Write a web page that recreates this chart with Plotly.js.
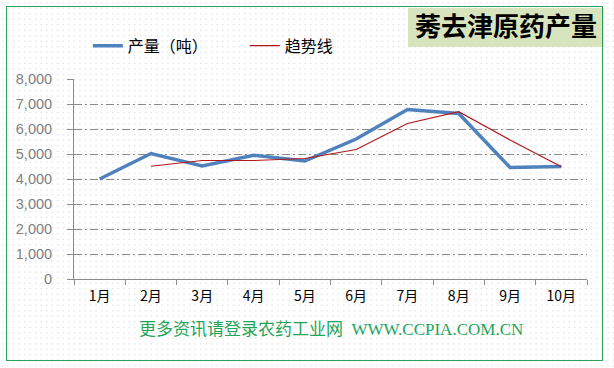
<!DOCTYPE html>
<html>
<head>
<meta charset="utf-8">
<script src="https://cdn.plot.ly/plotly-3.0.1.min.js"></script>
<style>
  html, body { margin: 0; padding: 0; background: #ffffff; }
  #wrap { position: relative; width: 614px; height: 368px; overflow: hidden;
          background-color: #ffffff;
          background-image: radial-gradient(circle, #dcdcdc 0.5px, transparent 0.8px);
          background-size: 5.5px 5.5px; }
  #frame { position: absolute; left: 6px; top: 6px; width: 597px; height: 355px;
           border: 1.5px solid #2e9e5b; box-sizing: border-box; pointer-events: none; z-index: 2; }
  #chart { position: absolute; left: 0; top: 0; width: 614px; height: 368px; }
</style>
</head>
<body>
<div id="wrap">
  <div id="chart"></div>
  <div id="frame"></div>
</div>
<script>
// ---- data ----
const months = ["1月", "2月", "3月", "4月", "5月", "6月", "7月", "8月", "9月", "10月"];
const output = [4000, 5020, 4520, 4950, 4720, 5600, 6780, 6620, 4460, 4500];
const trend = [null, 4510, 4740, 4740, 4820, 5180, 6220, 6690, 5560, 4490];
const outputName = "产量（吨）";
const trendName = "趋势线";
const chartTitle = "莠去津原药产量";
const footerText = "更多资讯请登录农药工业网  WWW.CCPIA.COM.CN";
const yTicks = [0, 1000, 2000, 3000, 4000, 5000, 6000, 7000, 8000];

const cjk = '"Noto Sans CJK SC", "Liberation Sans", sans-serif';

const traces = [
  { x: months, y: output, name: outputName, type: "scatter", mode: "lines",
    line: { color: "#4f81bd", width: 3.5 } },
  { x: months, y: trend, name: trendName, type: "scatter", mode: "lines",
    line: { color: "#b3171b", width: 1.2 }, connectgaps: false }
];

const layout = {
  width: 614, height: 368,
  margin: { l: 74, r: 27, t: 79, b: 89, pad: 0 },
  paper_bgcolor: "rgba(0,0,0,0)",
  plot_bgcolor: "rgba(0,0,0,0)",
  font: { family: cjk, size: 14, color: "#000000" },
  title: {
    text: "<b>" + chartTitle + "</b>",
    font: { family: '"Noto Sans CJK SC", serif', size: 26, color: "#000000" },
    x: 506 / 614, xanchor: "center", xref: "container",
    y: 1 - 27 / 368, yanchor: "middle", yref: "container"
  },
  showlegend: true,
  legend: {
    orientation: "h", x: 0.027, xanchor: "left", y: 1.166, yanchor: "middle",
    font: { family: cjk, size: 16, color: "#000000" },
    bgcolor: "rgba(0,0,0,0)", entrywidth: 112, itemwidth: 30, tracegroupgap: 0
  },
  xaxis: {
    type: "category", range: [-0.5, 9.5],
    showline: true, linecolor: "#8c8c8c", linewidth: 1,
    ticks: "outside", tickson: "boundaries", ticklen: 5, tickcolor: "#8c8c8c",
    showgrid: false, zeroline: false,
    tickfont: { family: cjk, size: 14, color: "#000000" },
    ticklabelstandoff: 4, fixedrange: true
  },
  yaxis: {
    range: [0, 8000], tickvals: yTicks, tickformat: ",d",
    showline: true, linecolor: "#8c8c8c", linewidth: 1,
    ticks: "outside", ticklen: 6, tickcolor: "#8c8c8c",
    showgrid: true, gridcolor: "#8a8a8a", gridwidth: 1, griddash: "8px,3px,2px,3px",
    zeroline: false,
    tickfont: { family: '"Liberation Sans", Arial, sans-serif', size: 14.5, color: "#7f7f7f" },
    ticklabelstandoff: 12, fixedrange: true
  },
  shapes: [
    { type: "rect", xref: "paper", yref: "paper",
      x0: (408 - 74) / 513, x1: (604 - 74) / 513,
      y0: (279 - 47) / 200, y1: (279 - 8) / 200,
      fillcolor: "#d7e4bd", line: { width: 0 }, layer: "below" }
  ],
  annotations: [
    { text: footerText, xref: "paper", yref: "paper",
      x: (331 - 74) / 513, y: (279 - 329) / 200, xanchor: "center", yanchor: "middle",
      showarrow: false,
      font: { family: '"Liberation Serif", "Noto Sans CJK SC", serif', size: 17, color: "#1fa55a" } }
  ]
};

Plotly.newPlot("chart", traces, layout, { displayModeBar: false, staticPlot: true });
</script>
</body>
</html>
